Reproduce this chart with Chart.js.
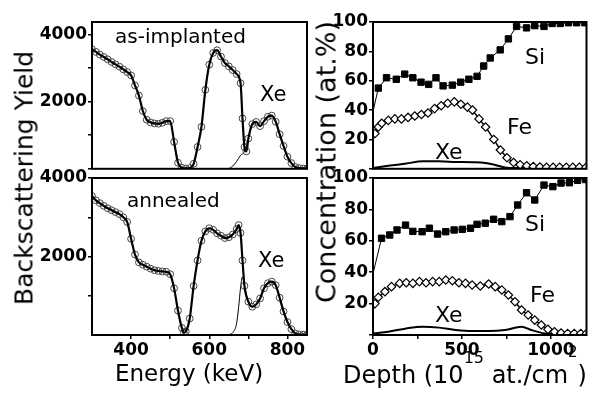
<!DOCTYPE html>
<html>
<head>
<meta charset="utf-8">
<script src="https://cdn.jsdelivr.net/npm/chart.js@4.4.1/dist/chart.umd.min.js"></script>
<style>
body{margin:0;background:#fff;width:592px;height:397px;overflow:hidden;position:relative;font-family:"DejaVu Sans",sans-serif;color:#000}
canvas{position:absolute}
.t{position:absolute;white-space:nowrap;line-height:1}
.rot{transform:translate(-50%,-50%) rotate(-90deg)}
</style>
</head>
<body>
<canvas id="tl" width="312" height="180" style="left:0;top:0"></canvas>
<canvas id="bl" width="312" height="205" style="left:0;top:160px"></canvas>
<canvas id="tr" width="302" height="180" style="left:290px;top:0"></canvas>
<canvas id="br" width="302" height="205" style="left:290px;top:160px"></canvas>

<div class="t rot" style="left:24px;top:178px;font-size:25px">Backscattering Yield</div>
<div class="t" style="left:115px;top:362px;font-size:23px">Energy (keV)</div>
<div class="t rot" style="left:326px;top:162px;font-size:27px">Concentration (at.%)</div>
<div class="t" style="left:343px;top:363px;font-size:24px">Depth (10<span style="font-size:16px;position:relative;top:-20px">15</span> at./cm<span style="font-size:15px;position:relative;top:-26px">2</span>)</div>

<div class="t" style="left:115px;top:26px;font-size:20px">as-implanted</div>
<div class="t" style="left:127px;top:190px;font-size:20px">annealed</div>
<div class="t" style="left:260px;top:84px;font-size:21px">Xe</div>
<div class="t" style="left:258px;top:250px;font-size:21px">Xe</div>
<div class="t" style="left:525px;top:46px;font-size:22px">Si</div>
<div class="t" style="left:507px;top:116px;font-size:22px">Fe</div>
<div class="t" style="left:435px;top:141px;font-size:22px">Xe</div>
<div class="t" style="left:525px;top:213px;font-size:22px">Si</div>
<div class="t" style="left:530px;top:284px;font-size:22px">Fe</div>
<div class="t" style="left:435px;top:304px;font-size:22px">Xe</div>

<script>
// RBS spectra, as-implanted (keV, counts)
var energyTop = [300,310,320,330,340,350,360,370,380,390,400,410,420,430,440,450,460,470,480,490,500,510,520,530,540,550,560,570,580,590,600,610,620,630,640,650,660,670,680,685,690,695,700,710,720,730,740,750,760,770,780,790,800,810,820,830,840,850];
var yieldTop = [3560,3480,3400,3330,3260,3180,3110,3040,2960,2880,2780,2480,2180,1720,1460,1380,1350,1340,1370,1420,1420,800,180,30,10,20,150,650,1250,2350,3100,3450,3530,3340,3150,3050,2940,2820,2550,1500,650,520,900,1330,1395,1270,1420,1550,1585,1400,1030,680,360,170,55,20,10,10];
var xeEnergyTop = [640,650,660,670,680,690,700,710,720,730,740,750,760,770,780,790,800,810,820,830,840,850];
var xeYieldTop = [0,10,80,220,400,520,900,1330,1395,1270,1420,1550,1585,1400,1030,680,360,170,55,20,10,10];

// RBS spectra, annealed
var energyBot = [300,310,320,330,340,350,360,370,380,390,400,410,420,430,440,450,460,470,480,490,500,510,520,530,535,540,550,560,570,580,590,600,610,620,630,640,650,660,670,675,680,685,690,700,710,720,730,740,750,760,770,780,790,800,810,820,830,840,850];
var yieldBot = [3540,3430,3360,3290,3230,3180,3130,3080,3000,2880,2450,2050,1850,1790,1740,1690,1650,1630,1620,1610,1550,1190,620,180,60,90,420,1250,1900,2400,2640,2720,2680,2590,2530,2470,2490,2560,2700,2800,2600,1900,1250,850,720,780,930,1190,1320,1360,1270,950,600,330,150,40,15,10,10];
var xeEnergyBot = [640,650,660,670,675,680,685,690,700,710,720,730,740,750,760,770,780,790,800,810,820,830,840,850];
var xeYieldBot = [0,10,60,300,700,1200,1480,1250,850,720,780,930,1190,1320,1360,1270,950,600,330,150,40,15,10,10];

// depth profiles, as-implanted (1e15 at/cm2, at.%)
var siDepthTop = [0,30,76,131,178,224,270,313,354,394,446,493,539,585,622,659,715,761,807,863,909,961,1007,1053,1099,1145,1191];
var siTop = [39,55,62,61,64.5,62,59,57.5,62,56.5,57,59,61,63,70,75.5,81,88.5,97,96,97.5,97,99,99,99.5,99.5,99.5];
var feDepthTop = [0,11,30,49,86,123,160,197,235,272,309,346,383,420,457,494,531,559,596,633,679,716,753,790,827,864,901,938,975,1012,1049,1086,1123,1160,1197];
var feTop = [20,24,28.5,31,33,34,34,35,36,37,38,41,43,44.7,45.6,44,42,40,34,28.5,20,12.8,7.5,4.3,2.8,2,1.5,1.2,1,1,1,1,1,1,1];
var xeDepthTop = [0,86,187,280,372,465,557,631,687,743,800,900,1000,1200];
var xeTop = [0.5,2,3.6,5.1,5.1,4.7,4.5,4,2.6,0.9,0.5,0.5,0.5,0.5];

// depth profiles, annealed
var siDepthBot = [0,48,94,135,183,224,276,317,363,409,456,502,548,585,631,678,724,770,813,863,909,961,1011,1057,1104,1150,1196];
var siBot = [39,61.6,63.7,66.9,70,66,65.8,68,64.3,65.8,66.9,67.3,68,70.5,71.2,73.7,72.2,75.4,82.8,90.6,86,95.5,94.5,96.8,97,98.5,99];
var feDepthBot = [0,11,30,67,104,150,187,224,261,298,335,372,409,446,483,520,557,603,650,687,724,761,798,835,872,909,946,983,1020,1057,1094,1131,1168,1200];
var feBot = [16,20,24,27.6,30.8,32.9,33.3,32.9,34,33.3,34,34,35,34.6,33.3,32.9,31.8,31.2,32.5,30.8,28.7,25.5,21.2,15.9,12.7,9.5,6.4,3.6,2.1,1.3,1,1,1,1];
var xeDepthBot = [0,86,187,280,372,465,557,650,743,835,890,964,1050,1200];
var xeBot = [1,2.1,4.2,5.3,4.7,3.2,2.5,2.5,3.2,5.3,3.2,1,0.5,0.5];

var tickFont = {family: 'DejaVu Sans', size: 17, weight: 'bold'};

function pts(xs, ys) {
  return xs.map(function (x, i) { return {x: x, y: ys[i]}; });
}

var frame = {
  id: 'frame',
  afterDatasetsDraw: function (chart) {
    var a = chart.chartArea, c = chart.ctx;
    c.save();
    c.strokeStyle = '#000';
    c.lineWidth = 2;
    c.strokeRect(a.left, a.top, a.right - a.left, a.bottom - a.top);
    c.restore();
  }
};

function axis(min, max, ticks, labels, fit) {
  return {
    type: 'linear',
    min: min, max: max,
    afterBuildTicks: function (s) { s.ticks = ticks.map(function (v) { return {value: v}; }); },
    afterFit: fit,
    border: {display: false},
    grid: {drawOnChartArea: false, tickLength: 4, color: '#000', lineWidth: 1.5},
    ticks: {
      padding: 1, color: '#000', font: tickFont, autoSkip: false, maxRotation: 0,
      callback: function (v) { return labels.indexOf(v) >= 0 ? String(v) : ''; }
    }
  };
}

function panel(id, datasets, x, y, pad) {
  new Chart(document.getElementById(id), {
    type: 'scatter',
    data: {datasets: datasets},
    options: {
      responsive: false, animation: false, devicePixelRatio: 1,
      layout: {padding: pad},
      plugins: {legend: {display: false}, tooltip: {enabled: false}},
      scales: {x: x, y: y}
    },
    plugins: [frame]
  });
}

function rbsSets(e, yv, xe, xy) {
  return [
    {data: pts(e, yv), showLine: true, borderColor: '#000', borderWidth: 2.2, pointRadius: 0, cubicInterpolationMode: 'monotone'},
    {data: pts(e, yv), showLine: false, pointRadius: 3.4, pointBorderColor: '#444', pointBorderWidth: 1, pointBackgroundColor: 'rgba(255,255,255,0)'},
    {data: pts(xe, xy), showLine: true, borderColor: '#000', borderWidth: 1, pointRadius: 0, cubicInterpolationMode: 'monotone'}
  ];
}

function profSets(sd, sv, fd, fv, xd, xv) {
  return [
    {data: pts(sd, sv), showLine: true, borderColor: '#000', borderWidth: 1, pointStyle: 'rect',
     pointRadius: function (c) { return c.dataIndex === 0 ? 0 : 4.5; }, pointBackgroundColor: '#000', pointBorderColor: '#000'},
    {data: pts(fd, fv), showLine: true, borderColor: '#000', borderWidth: 1.5, pointStyle: 'rectRot',
     pointRadius: function (c) { return c.dataIndex === 0 ? 0 : 4.2; }, pointBackgroundColor: '#fff', pointBorderColor: '#000', pointBorderWidth: 1.2},
    {data: pts(xd, xv), showLine: true, borderColor: '#000', borderWidth: 2, pointRadius: 0, cubicInterpolationMode: 'monotone'}
  ];
}

var hideX = function (min, max) { return {type: 'linear', min: min, max: max, display: false}; };
var w92 = function (s) { s.width = 92; };
var w83 = function (s) { s.width = 83; };
var h30 = function (s) { s.height = 30; };

panel('tl', rbsSets(energyTop, yieldTop, xeEnergyTop, xeYieldTop),
  hideX(300, 850),
  axis(0, 4370, [0, 1000, 2000, 3000, 4000], [2000, 4000], w92),
  {top: 22, right: 5, bottom: 2, left: 0});

panel('bl', rbsSets(energyBot, yieldBot, xeEnergyBot, xeYieldBot),
  axis(300, 850, [400, 500, 600, 700, 800], [400, 600, 800], h30),
  axis(0, 4000, [1000, 2000, 3000, 4000], [2000, 4000], w92),
  {top: 18, right: 5, bottom: 0, left: 0});

panel('tr', profSets(siDepthTop, siTop, feDepthTop, feTop, xeDepthTop, xeTop),
  hideX(0, 1200),
  axis(0, 100, [0, 20, 40, 60, 80, 100], [20, 40, 60, 80, 100], w83),
  {top: 22, right: 4, bottom: 2, left: 0});

panel('br', profSets(siDepthBot, siBot, feDepthBot, feBot, xeDepthBot, xeBot),
  axis(0, 1200, [0, 250, 500, 750, 1000], [0, 500, 1000], h30),
  axis(0, 100, [0, 20, 40, 60, 80, 100], [20, 40, 60, 80, 100], w83),
  {top: 18, right: 4, bottom: 0, left: 0});
</script>
</body>
</html>
